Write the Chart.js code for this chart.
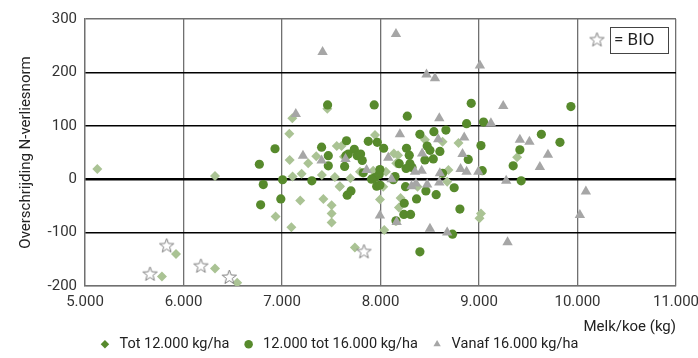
<!DOCTYPE html>
<html>
<head>
<meta charset="utf-8">
<script src="https://cdn.jsdelivr.net/npm/chart.js@4/dist/chart.umd.min.js"></script>
<style>
  html, body { margin: 0; padding: 0; background: #fff; }
  #wrap { width: 698px; height: 358px; }
</style>
</head>
<body>
<div id="wrap"><canvas id="chartCanvas" width="698" height="358"></canvas></div>
<script>
// Melkproductie per koe (kg) tegen overschrijding N-verliesnorm, per klasse melk/ha
const tot12000 = [
  [5125, 19], [6320, 6], [5924, -140], [5781, -182], [6320, -167], [6545, -194],
  [7740, -128], [6935, -70], [7095, -90], [7185, -40], [7420, -37], [7504, -49],
  [7504, -64], [7504, -81], [7585, -14], [7107, 5], [7199, 10], [7405, 8],
  [7537, 4], [7695, 2], [7791, 14], [7926, 16], [7944, 83], [7460, 132],
  [7105, 114], [7074, 85], [7078, 36], [7266, 30], [7348, 43], [7556, 62],
  [7604, 62], [7629, 42], [8451, 74], [8630, 70], [8792, 68], [8136, 48],
  [8178, 45], [8160, 30], [8690, 17], [7995, -38], [8204, -35], [8187, -53],
  [8376, -14], [8677, -5], [8038, -95], [9020, -64], [9005, -73], [9387, 41],
  [8028, -14], [7588, -13], [8055, 14]
];
const tot16000 = [
  [6770, 28], [6929, 57], [6810, -10], [6783, -48], [6988, -37], [7006, -1],
  [7303, -3], [7463, 139], [7402, 60], [7470, 44], [7470, 25], [7655, 72],
  [7649, 44], [7673, 47], [7734, 56], [7764, 44], [7636, 24], [7876, 71],
  [7967, 69], [7815, 35], [7798, 47], [7825, 12], [7944, 3], [7987, 9],
  [7909, 0], [7662, -30], [7700, -22], [7961, -13], [7936, 139], [8272, 118],
  [8921, 142], [8874, 104], [9046, 107], [8400, 84], [8542, 89], [8664, 92],
  [8032, 58], [8264, 58], [8292, 45], [8474, 62], [8502, 54], [8603, 52],
  [8451, 36], [8536, 38], [8190, 29], [8299, 29], [8320, 22], [8260, 20],
  [7994, 18], [9020, 63], [8891, 37], [9033, 16], [8130, -1], [8147, 5],
  [8254, -14], [8748, -16], [8366, -37], [8461, -22], [8565, -29], [8241, -45],
  [8237, -66], [8305, -66], [8157, -78], [8806, -56], [8731, -103], [8400, -136],
  [9933, 136], [9633, 84], [9822, 69], [9415, 55], [9347, 25], [9428, -3],
  [8630, 11], [7994, -11]
];
const vanaf16000 = [
  [7412, 238], [7140, 122], [7213, 44], [7402, 35], [7645, 38], [7859, 17],
  [8157, 272], [9009, 213], [8467, 196], [8553, 189], [9246, 137], [8597, 114],
  [9121, 105], [8197, 84], [8586, 75], [8850, 78], [8079, 40], [8423, 48],
  [8833, 47], [8350, 14], [8418, 16], [8603, 11], [8813, 19], [8874, 14],
  [8993, 14], [8113, 0], [9415, 74], [9512, 70], [9700, 46], [9618, 23],
  [9276, -3], [10085, -23], [10024, -67], [9290, -118], [7994, -68], [8164, -80],
  [8502, -93], [8677, -100], [8315, -13], [8474, -10], [8597, -6], [8360, -8]
];
const bioBedrijven = [
  [5660, -178], [5829, -125], [6177, -163], [6465, -184], [7832, -136]
];

const seriesLabels = ['Tot 12.000 kg/ha', '12.000 tot 16.000 kg/ha', 'Vanaf 16.000 kg/ha', 'BIO'];
const xTicks = [5000, 6000, 7000, 8000, 9000, 10000, 11000];
const yTicks = [-200, -100, 0, 100, 200, 300];

const FONT = 'Roboto, "Liberation Sans", sans-serif';
const DARK_GREEN = '#578a2c';

const toPoints = (rows) => rows.map(([x, y]) => ({ x, y }));
const dotThousands = (v) => String(v).replace(/\B(?=(\d{3})+(?!\d))/g, '.');

// open ster als puntstijl voor de biologische bedrijven
const makeStar = (size, outer, inner) => {
  const c = document.createElement('canvas');
  c.width = size;
  c.height = size;
  const g = c.getContext('2d');
  const cx = size / 2, cy = size / 2;
  g.beginPath();
  for (let i = 0; i < 10; i++) {
    const r = i % 2 === 0 ? outer : inner;
    const a = -Math.PI / 2 + (i * Math.PI) / 5;
    const px = cx + r * Math.cos(a), py = cy + r * Math.sin(a);
    if (i === 0) g.moveTo(px, py); else g.lineTo(px, py);
  }
  g.closePath();
  g.fillStyle = '#fff';
  g.fill();
  g.strokeStyle = '#808080';
  g.lineWidth = 1;
  g.stroke();
  return c;
};
const starImg = makeStar(17, 7.5, 3.1);

// kadertje "= BIO" rechtsboven in het plotvlak
const bioKey = {
  id: 'bioKey',
  afterDraw(chart) {
    const { ctx, chartArea } = chart;
    const w = 58, h = 26;
    const left = chartArea.right - 8 - w;
    const top = chartArea.top + 8;
    ctx.save();
    ctx.strokeStyle = '#444';
    ctx.lineWidth = 1;
    ctx.strokeRect(Math.round(left) + 0.5, Math.round(top) + 0.5, w, h);
    ctx.fillStyle = '#222';
    ctx.font = '17px ' + FONT;
    ctx.textBaseline = 'middle';
    ctx.fillText('= BIO', left + 4, top + h / 2 + 1);
    ctx.drawImage(starImg, left - 13 - 8.5, top + h / 2 - 8.5);
    ctx.restore();
  }
};

const ctx = document.getElementById('chartCanvas').getContext('2d');

new Chart(ctx, {
  type: 'scatter',
  data: {
    datasets: [
      {
        label: seriesLabels[0],
        data: toPoints(tot12000),
        pointStyle: 'rectRot',
        pointRadius: 5,
        pointHoverRadius: 5,
        backgroundColor: '#aac394',
        borderColor: '#aac394',
        borderWidth: 0,
        order: 3
      },
      {
        label: seriesLabels[1],
        data: toPoints(tot16000),
        pointStyle: 'circle',
        pointRadius: 4.6,
        pointHoverRadius: 4.6,
        backgroundColor: DARK_GREEN,
        borderColor: DARK_GREEN,
        borderWidth: 0,
        order: 2
      },
      {
        label: seriesLabels[2],
        data: toPoints(vanaf16000),
        pointStyle: 'triangle',
        pointRadius: 6,
        pointHoverRadius: 6,
        backgroundColor: '#a6a6a6',
        borderColor: '#a6a6a6',
        borderWidth: 0,
        order: 1
      },
      {
        label: seriesLabels[3],
        data: toPoints(bioBedrijven),
        pointStyle: starImg,
        pointRadius: 8,
        backgroundColor: '#fff',
        borderColor: '#808080',
        order: 0
      }
    ]
  },
  options: {
    responsive: false,
    animation: false,
    events: [],
    layout: { padding: { left: 0, top: 19, right: 22, bottom: 0 } },
    scales: {
      x: {
        type: 'linear',
        min: 5000,
        max: 11000,
        afterBuildTicks: (scale) => { scale.ticks = xTicks.map((v) => ({ value: v })); },
        afterFit: (scale) => {
          scale.height = 39;
          scale.paddingLeft = 0;
          scale.paddingRight = 0;
        },
        ticks: {
          color: '#333',
          font: { family: FONT, size: 15 },
          padding: 7,
          maxRotation: 0,
          callback: (v) => dotThousands(v)
        },
        grid: { color: '#707070', lineWidth: 1.3, drawTicks: false },
        border: { color: '#707070', width: 1.3 },
        title: {
          display: true,
          text: 'Melk/koe (kg)',
          align: 'end',
          color: '#222',
          font: { family: FONT, size: 15 },
          padding: { top: 0, bottom: -11 }
        }
      },
      y: {
        min: -200,
        max: 300,
        afterBuildTicks: (scale) => { scale.ticks = yTicks.map((v) => ({ value: v })); },
        afterFit: (scale) => { scale.width = 85; },
        ticks: {
          color: '#333',
          font: { family: FONT, size: 15 },
          padding: 8
        },
        grid: {
          drawTicks: false,
          color: (c) => (c.tick && (c.tick.value === 300 || c.tick.value === -200) ? '#707070' : '#000'),
          lineWidth: (c) => (c.tick && c.tick.value === 0 ? 2.6 : 1.4)
        },
        border: { color: '#707070', width: 1.3 },
        title: {
          display: true,
          text: 'Overschrijding N-verliesnorm',
          color: '#222',
          font: { family: FONT, size: 15 },
          padding: { top: 17, bottom: 0 }
        }
      }
    },
    plugins: {
      tooltip: { enabled: false },
      legend: {
        position: 'bottom',
        maxHeight: 33,
        labels: {
          usePointStyle: true,
          boxWidth: 15,
          boxHeight: 6,
          padding: 12,
          color: '#222',
          font: { family: FONT, size: 14.5 },
          generateLabels: (chart) =>
            Chart.defaults.plugins.legend.labels.generateLabels(chart).map((item) =>
              item.datasetIndex === 0 ? { ...item, fillStyle: DARK_GREEN, strokeStyle: DARK_GREEN } : item
            ),
          filter: (item) => item.datasetIndex !== 3,
          sort: (a, b) => a.datasetIndex - b.datasetIndex
        }
      }
    }
  },
  plugins: [bioKey]
});
</script>
</body>
</html>
